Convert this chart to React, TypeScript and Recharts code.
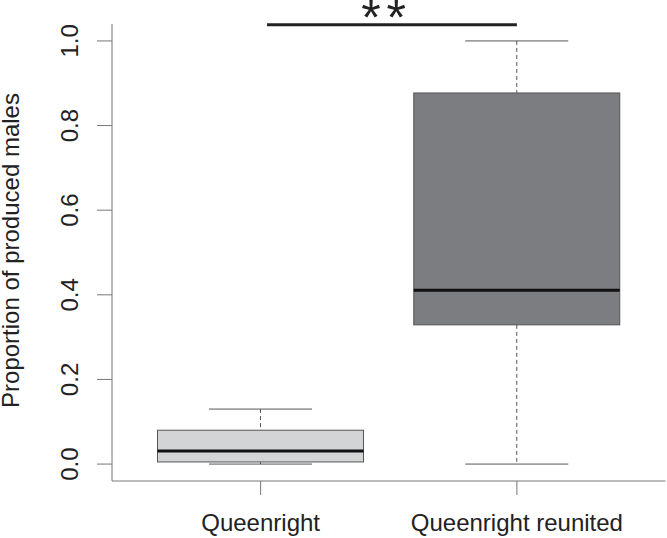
import React from 'react';
import { ComposedChart, Bar, XAxis, YAxis, ReferenceLine, ReferenceDot } from 'recharts';

const groups = ['Queenright', 'Queenright reunited'];
const positions = [1, 2];
const whiskerLow = [0.0, 0.0];
const lowerQuartile = [0.005, 0.329];
const medians = [0.031, 0.411];
const upperQuartile = [0.08, 0.877];
const whiskerHigh = [0.13, 1.0];
const boxFills = ['#d3d4d6', '#7c7d81'];
const yTicks = [0, 0.2, 0.4, 0.6, 0.8, 1.0];
const sigFrom = 1.025;
const sigTo = 2;
const sigY = 1.038;
const sigStarsX = 1.48;
const sigLabel = '**';

const data = groups.map((g, i) => ({
  name: g,
  pos: positions[i],
  lo: whiskerLow[i],
  q1: lowerQuartile[i],
  med: medians[i],
  q3: upperQuartile[i],
  hi: whiskerHigh[i],
  fill: boxFills[i],
}));

const FONT = '"Liberation Sans", Arial, Helvetica, sans-serif';

const BoxShape = (props: any) => {
  const { x, y, width, height, payload } = props;
  const p = payload;
  const scale = height / (p.hi - p.lo);
  const py = (v: number) => y + (p.hi - v) * scale;
  const cx = x + width / 2;
  const capHalf = width / 4;
  return (
    <g>
      <line x1={cx} x2={cx} y1={py(p.hi)} y2={py(p.q3)} stroke="#555" strokeWidth={1} strokeDasharray="4 3" />
      <line x1={cx} x2={cx} y1={py(p.q1)} y2={py(p.lo)} stroke="#555" strokeWidth={1} strokeDasharray="4 3" />
      <line x1={cx - capHalf} x2={cx + capHalf} y1={py(p.hi)} y2={py(p.hi)} stroke="#555" strokeWidth={1} />
      <line x1={cx - capHalf} x2={cx + capHalf} y1={py(p.lo)} y2={py(p.lo)} stroke="#555" strokeWidth={1} />
      <rect x={x} y={py(p.q3)} width={width} height={py(p.q1) - py(p.q3)} fill={p.fill} stroke="#555" strokeWidth={1} />
      <line x1={x} x2={x + width} y1={py(p.med)} y2={py(p.med)} stroke="#111" strokeWidth={3} />
    </g>
  );
};

const YTick = (props: any) => {
  const { x, y, payload } = props;
  return (
    <text
      x={x}
      y={y}
      transform={`rotate(-90, ${x}, ${y})`}
      textAnchor="middle"
      fontFamily={FONT}
      fontSize={24}
      fill="#222"
    >
      {Number(payload.value).toFixed(1)}
    </text>
  );
};

const XTick = (props: any) => {
  const { x, y, payload } = props;
  const idx = positions.indexOf(payload.value);
  return (
    <text x={x} y={y} textAnchor="middle" fontFamily={FONT} fontSize={24} fill="#222">
      {idx >= 0 ? groups[idx] : ''}
    </text>
  );
};

const YLabel = (props: any) => {
  const { viewBox } = props;
  const lx = viewBox.x + 19;
  const ly = viewBox.y + viewBox.height / 2 - 2;
  return (
    <text
      x={lx}
      y={ly}
      transform={`rotate(-90, ${lx}, ${ly})`}
      textAnchor="middle"
      fontFamily={FONT}
      fontSize={24}
      fill="#222"
    >
      Proportion of produced males
    </text>
  );
};

const Stars = (props: any) => {
  const { cx, cy } = props;
  return (
    <text
      x={cx + 3}
      y={cy + 10}
      textAnchor="middle"
      fontFamily={FONT}
      fontSize={50}
      letterSpacing={6}
      fill="#222"
    >
      {sigLabel}
    </text>
  );
};

export default function App() {
  return (
    <div style={{ position: 'absolute', left: 0, top: 0, width: 667, height: 538, background: '#fff' }}>
      <ComposedChart
        width={667}
        height={538}
        data={data}
        margin={{ top: 24, right: 1.5, bottom: 0, left: 0 }}
      >
        <XAxis
          type="number"
          dataKey="pos"
          domain={[0.42, 2.58]}
          ticks={positions}
          allowDataOverflow
          height={57}
          tickSize={14}
          tickMargin={36}
          stroke="#777"
          tickLine={{ stroke: '#777' }}
          axisLine={{ stroke: '#777' }}
          tick={<XTick />}
        />
        <YAxis
          type="number"
          domain={[-0.04, 1.04]}
          ticks={yTicks}
          allowDataOverflow
          width={112}
          tickSize={15}
          tickMargin={19}
          stroke="#777"
          tickLine={{ stroke: '#777' }}
          axisLine={{ stroke: '#777' }}
          tick={<YTick />}
          label={<YLabel />}
        />
        <Bar
          dataKey={(d: any) => [d.lo, d.hi]}
          barSize={206}
          shape={<BoxShape />}
          isAnimationActive={false}
        />
        <ReferenceLine
          segment={[{ x: sigFrom, y: sigY }, { x: sigTo, y: sigY }]}
          stroke="#222"
          strokeWidth={3}
          ifOverflow="visible"
        />
        <ReferenceDot x={sigStarsX} y={sigY} r={0} ifOverflow="visible" shape={<Stars />} />
      </ComposedChart>
    </div>
  );
}
